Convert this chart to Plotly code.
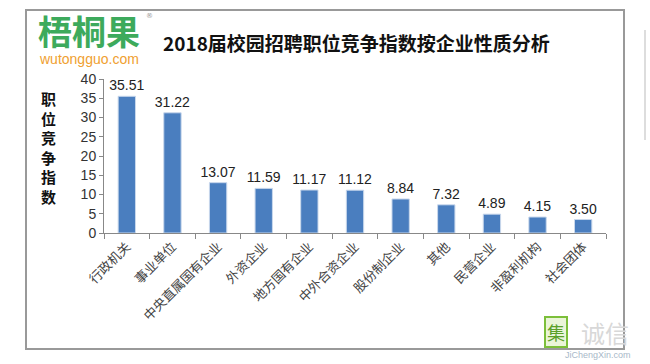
import plotly.graph_objects as go

categories = ["行政机关", "事业单位", "中央直属国有企业", "外资企业", "地方国有企业",
              "中外合资企业", "股份制企业", "其他", "民营企业", "非盈利机构", "社会团体"]
values = [35.51, 31.22, 13.07, 11.59, 11.17, 11.12, 8.84, 7.32, 4.89, 4.15, 3.50]
y_ticks = [0, 5, 10, 15, 20, 25, 30, 35, 40]
title_text = "2018届校园招聘职位竞争指数按企业性质分析"
y_title = "职位竞争指数"

CJK = "Noto Sans CJK SC"
W, H = 650, 364
L, R, T, B = 104, 44, 79, 131
pw, ph = W - L - R, H - T - B

def px(x):
    return (x - L) / pw

def py(y):
    return (H - B - y) / ph

fig = go.Figure()
fig.add_trace(go.Bar(
    x=categories, y=values,
    marker=dict(color="#4A7EBF", line=dict(color="#C9D8EC", width=1)),
    text=[f"{v:.2f}" for v in values],
    textposition="outside",
    constraintext="none",
    textfont=dict(family="Liberation Sans, Arial", size=14, color="#222"),
    cliponaxis=False,
))

fig.update_layout(
    width=W, height=H,
    margin=dict(l=L, r=R, t=T, b=B, autoexpand=False),
    paper_bgcolor="white", plot_bgcolor="white",
    bargap=0.62,
    showlegend=False,
    xaxis=dict(
        automargin=False,
        tickangle=-45, ticks="outside", tickson="boundaries", ticklen=5,
        tickcolor="#888", showline=True, linecolor="#888", linewidth=1,
        tickfont=dict(family=CJK, size=13, color="#444"),
        showgrid=False,
    ),
    yaxis=dict(
        automargin=False,
        range=[0, 40], tickvals=y_ticks, ticks="outside", ticklen=4,
        tickcolor="#888", showline=True, linecolor="#888", linewidth=1,
        showgrid=False, zeroline=False,
        tickfont=dict(family="Liberation Sans, Arial", size=14, color="#333"),
    ),
)

# frame
fig.add_shape(type="rect", xref="paper", yref="paper",
              x0=px(26), x1=px(624), y0=py(349), y1=py(10),
              line=dict(color="#999", width=2), layer="below")
# right edge artifact line
fig.add_shape(type="line", xref="paper", yref="paper",
              x0=px(645), x1=px(645), y0=py(140), y1=py(30),
              line=dict(color="#ddd", width=2))

# title
fig.add_annotation(text=f"<b>{title_text}</b>", xref="paper", yref="paper",
                   x=px(356), y=py(43), showarrow=False, xanchor="center", yanchor="middle",
                   font=dict(family=CJK, size=19, color="#111"))
# logo
fig.add_annotation(text="<b>梧桐果</b>", xref="paper", yref="paper",
                   x=px(36), y=py(31), showarrow=False, xanchor="left", yanchor="middle",
                   font=dict(family=CJK, size=34, color="#3DAA5C"))
fig.add_annotation(text="®", xref="paper", yref="paper",
                   x=px(144), y=py(16), showarrow=False, xanchor="left", yanchor="middle",
                   font=dict(family="DejaVu Sans", size=7, color="#999"))
fig.add_annotation(text="wutongguo.com", xref="paper", yref="paper",
                   x=px(37), y=py(59), showarrow=False, xanchor="left", yanchor="middle",
                   font=dict(family="Liberation Sans, Arial", size=14, color="#F0A030"))
# y title
fig.add_annotation(text="<b>" + "<br>".join(y_title) + "</b>", xref="paper", yref="paper",
                   x=px(48), y=py(147), showarrow=False, xanchor="center", yanchor="middle",
                   font=dict(family=CJK, size=15, color="#111"))
# watermark
fig.add_annotation(text="集", xref="paper", yref="paper",
                   x=px(556), y=py(332), showarrow=False, xanchor="center", yanchor="middle",
                   bordercolor="#7CBF3A", borderwidth=2, borderpad=1, bgcolor="#EAF5D8",
                   font=dict(family=CJK, size=18, color="#5BA02A"))
fig.add_annotation(text="诚信", xref="paper", yref="paper",
                   x=px(605), y=py(332), showarrow=False, xanchor="center", yanchor="middle",
                   font=dict(family=CJK, size=24, color="#D8D8D8"))
fig.add_annotation(text="JiChengXin.com", xref="paper", yref="paper",
                   x=px(598), y=py(355), showarrow=False, xanchor="center", yanchor="middle",
                   font=dict(family="Liberation Sans, Arial", size=9, color="#A8B8C8"))

fig.write_html("out.html", config={"displayModeBar": False},
               post_script="document.body.style.margin='0';document.body.style.overflow='hidden';")
